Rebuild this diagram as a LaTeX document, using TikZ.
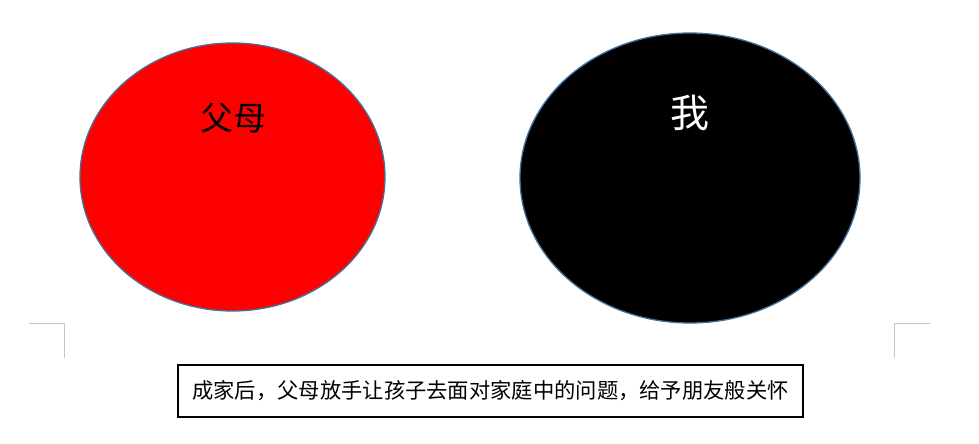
\documentclass[tikz,border=0pt]{standalone}
\usepackage{fontspec}
\newfontfamily\cjk{Noto Sans CJK SC}
\usetikzlibrary{shapes,positioning}
\usepackage{xcolor}
\definecolor{borde}{RGB}{65,113,156}

\begin{document}
\begin{tikzpicture}[x=1pt,y=-1pt,
    circulo/.style={ellipse,draw=borde,line width=1.3pt,inner sep=0pt},
    marca/.style={draw=gray!45,line width=0.9pt}]
            \useasboundingbox (0,0) rectangle (979,444);
            \node[circulo,fill=red,minimum width=305pt,minimum height=268pt] (padres) at (232.5,177) {}; % elipse roja
            \node[circulo,fill=black,minimum width=340pt,minimum height=290pt] (yo) at (690,178) {}; % elipse negra
            \node (tpadres) at (233,118) {\cjk\fontsize{33}{33}\selectfont 父母};
            \node[text=white] (tyo) at (690,113) {\cjk\fontsize{39}{39}\selectfont 我};
            \node[draw,line width=2pt,minimum width=625pt,minimum height=52pt,inner sep=0pt] (nota) at (490.5,391)
                {\cjk\fontsize{21.3}{21.3}\selectfont 成家后，父母放手让孩子去面对家庭中的问题，给予朋友般关怀};
            \draw[marca] (29,323) -- (64.5,323) -- (64.5,358); % esquina izq.
            \draw[marca] (930,323) -- (894.5,323) -- (894.5,358); % esquina der.
\end{tikzpicture}
\end{document}
